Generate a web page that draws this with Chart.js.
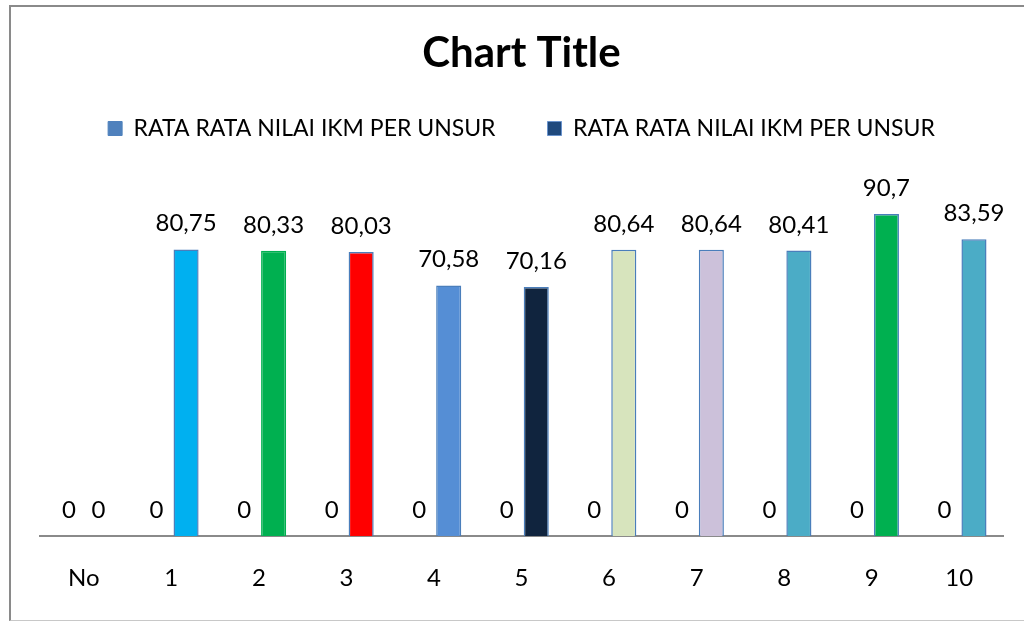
<!DOCTYPE html>
<html>
<head>
<meta charset="utf-8">
<script src="https://cdn.jsdelivr.net/npm/chart.js@4/dist/chart.umd.min.js"></script>
<style>
  html, body { margin: 0; padding: 0; background: #ffffff; overflow: hidden; }
  #frame { position: absolute; left: 9px; top: 5px; width: 1100px; height: 613px;
           border-left: 2px solid #8a8a8a; border-top: 2px solid #8a8a8a;
           border-bottom: 1px solid #c8c8c8; }
  #wrap { position: absolute; left: 0; top: 0; width: 1024px; height: 621px; }
</style>
</head>
<body>
<div id="frame"></div>
<div id="wrap"><canvas id="c" width="1024" height="621"></canvas></div>
<script>
const categories = ['No', '1', '2', '3', '4', '5', '6', '7', '8', '9', '10'];
const seriesNames = ['RATA RATA NILAI IKM PER UNSUR', 'RATA RATA NILAI IKM PER UNSUR'];
const series1 = [0, 0, 0, 0, 0, 0, 0, 0, 0, 0, 0];
const series2 = [0, 80.75, 80.33, 80.03, 70.58, 70.16, 80.64, 80.64, 80.41, 90.7, 83.59];
const chartTitle = 'Chart Title';

const series2Colors = ['#4F81BD', '#00B0F0', '#00B050', '#FF0000', '#558ED5', '#10243E',
                       '#D7E4BD', '#CCC1DA', '#4BACC6', '#00B050', '#4BACC6'];
const series2Borders = ['#4A7EBB', '#4A7EBB', '#00B050', '#4A7EBB', '#4A7EBB', '#4A7EBB',
                        '#4A7EBB', '#4A7EBB', '#4A7EBB', '#4A7EBB', '#4A7EBB'];
const legendFills = ['#4F81BD', '#1F497D'];
const legendStrokes = ['#4F81BD', '#6A93CC'];

const FONT = 'Lato, "Open Sans", sans-serif';

const fmt = v => String(v).replace('.', ',');

const dataLabels = {
  id: 'dataLabels',
  afterDatasetsDraw(chart) {
    const ctx = chart.ctx;
    ctx.save();
    ctx.font = '24px ' + FONT;
    ctx.fillStyle = '#000000';
    ctx.textAlign = 'center';
    ctx.textBaseline = 'alphabetic';
    chart.data.datasets.forEach((ds, di) => {
      const meta = chart.getDatasetMeta(di);
      meta.data.forEach((el, i) => {
        ctx.fillText(fmt(ds.data[i]), el.x, el.y - 18);
      });
    });
    ctx.restore();
  }
};

const legendGap = {
  id: 'legendGap',
  beforeInit(chart) {
    const lg = chart.legend;
    if (!lg) return;
    const orig = lg.fit;
    lg.fit = function () { orig.call(this); this.height += 31; };
  }
};

new Chart(document.getElementById('c'), {
  type: 'bar',
  data: {
    labels: categories,
    datasets: [
      { label: seriesNames[0], data: series1, backgroundColor: '#4F81BD', borderWidth: 0,
        categoryPercentage: 0.674, barPercentage: 0.85 },
      { label: seriesNames[1], data: series2, backgroundColor: series2Colors,
        borderColor: series2Borders, borderWidth: 1.5,
        categoryPercentage: 0.674, barPercentage: 0.85 }
    ]
  },
  options: {
    responsive: false,
    animation: false,
    events: [],
    layout: { padding: { left: 40, right: 21, top: 0, bottom: 0 } },
    plugins: {
      title: {
        display: true, text: chartTitle, color: '#000000',
        font: { family: FONT, size: 42, weight: 'bold' },
        padding: { top: 28, bottom: -13.4 }
      },
      legend: {
        display: true, position: 'top',
        labels: {
          color: '#000000',
          font: { family: FONT, size: 23 },
          boxWidth: 14, boxHeight: 14, padding: 52,
          generateLabels(chart) {
            return chart.data.datasets.map((ds, i) => ({
              text: ds.label, fillStyle: legendFills[i], strokeStyle: legendStrokes[i],
              lineWidth: 1, hidden: false, datasetIndex: i, fontColor: '#000000'
            }));
          }
        }
      },
      tooltip: { enabled: false }
    },
    scales: {
      x: {
        grid: { display: false, drawTicks: false },
        border: { display: true, color: '#8a8a8a', width: 2 },
        ticks: { color: '#000000', font: { family: FONT, size: 24 }, padding: 28, maxRotation: 0 }
      },
      y: { display: false, min: 0, max: 100 }
    }
  },
  plugins: [dataLabels, legendGap]
});
</script>
</body>
</html>
